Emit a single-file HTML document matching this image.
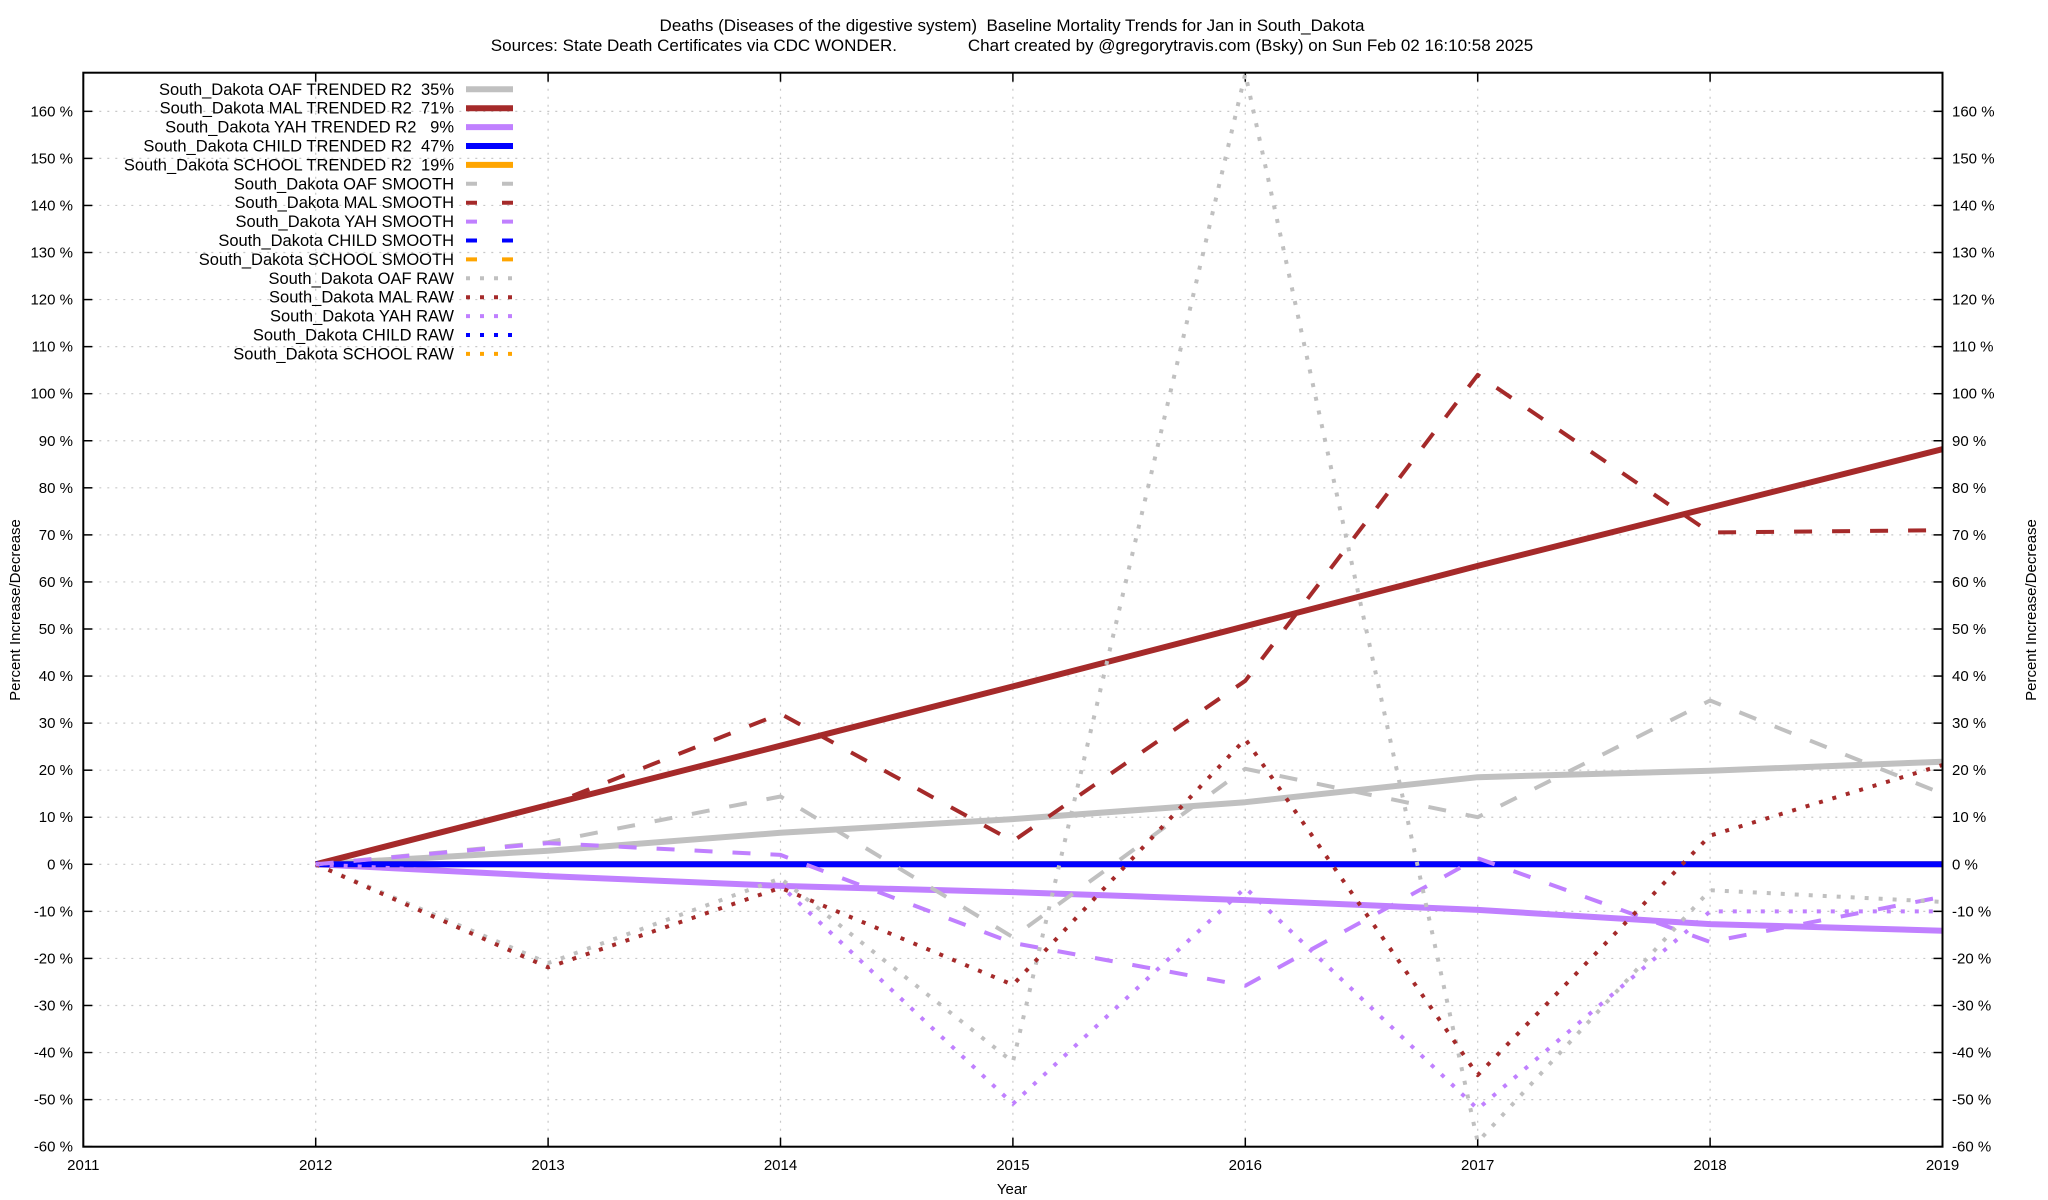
<!DOCTYPE html>
<html><head><meta charset="utf-8"><style>
html,body{margin:0;padding:0;background:#fff;}
svg{display:block;font-family:"Liberation Sans",Arial,sans-serif;}
svg text{white-space:pre;}
</style></head><body>
<svg id="chart" width="2048" height="1200" viewBox="0 0 2048 1200" xmlns="http://www.w3.org/2000/svg">
<rect x="0" y="0" width="2048" height="1200" fill="#fff"/>
<text x="1012" y="31" text-anchor="middle" font-size="17">Deaths (Diseases of the digestive system)  Baseline Mortality Trends for Jan in South_Dakota</text>
<text x="1012" y="51" text-anchor="middle" font-size="17">Sources: State Death Certificates via CDC WONDER.               Chart created by @gregorytravis.com (Bsky) on Sun Feb 02 16:10:58 2025</text>
<g id="grid"></g>
<g id="axes"></g>
<defs><clipPath id="plotclip"><rect x="83.3" y="72.7" width="1859.2" height="1074"/></clipPath></defs>
<g id="series" clip-path="url(#plotclip)"></g>
<g id="legend"></g>
<rect x="83.3" y="72.7" width="1859.2" height="1074" fill="none" stroke="#000" stroke-width="2"/>
<text x="1012" y="1194" text-anchor="middle" font-size="15">Year</text>
<text transform="translate(20,610) rotate(-90)" text-anchor="middle" font-size="15">Percent Increase/Decrease</text>
<text transform="translate(2036,610) rotate(-90)" text-anchor="middle" font-size="15">Percent Increase/Decrease</text>
</svg>
<script>
const years = [2012,2013,2014,2015,2016,2017,2018,2019];
const xTicks = [2011,2012,2013,2014,2015,2016,2017,2018,2019];
const yTicks = [-60,-50,-40,-30,-20,-10,0,10,20,30,40,50,60,70,80,90,100,110,120,130,140,150,160];
const oafTrended = [0,2.9,6.7,9.6,13.2,18.5,19.9,21.8];
const malTrended = [0,12.6,25.2,37.8,50.6,63.4,75.8,88.2];
const yahTrended = [0,-2.5,-4.6,-5.9,-7.6,-9.7,-12.7,-14.1];
const childTrended = [0,0,0,0,0,0,0,0];
const schoolTrended = [0,0,0,0,0,0,0,0];
const oafSmooth = [0,4.7,14.4,-15.5,20.3,10,34.8,15];
const malSmooth = [0,12.5,32,4.9,39,104,70.5,71];
const yahSmooth = [0,4.5,2,-16.7,-25.8,1.3,-16.5,-6.9];
const childSmooth = [0,0,0,0,0,0,0,0];
const schoolSmooth = [0,0,0,0,0,0,0,0];
const oafRaw = [0,-21,-3,-42,168,-59,-5.5,-8];
const malRaw = [0,-21.9,-5,-25.6,26.6,-44.8,6.1,21.1];
const yahRaw = [0,-2.5,-4.5,-50.9,-5,-52,-10,-10];
const childRaw = [0,0,0,0,0,0,0,0];
const schoolRaw = [0,0,0,0,0,0,0,0];

const NS="http://www.w3.org/2000/svg";
const X0=83.3, XS=232.4, Y0=864.3, YS=4.706;
function xScale(yr){return X0+(yr-2011)*XS;}
function yScale(v){return Y0-v*YS;}
function mk(tag,attrs,parent){const e=document.createElementNS(NS,tag);for(const k in attrs)e.setAttribute(k,attrs[k]);parent.appendChild(e);return e;}

const grid=document.getElementById('grid'), axes=document.getElementById('axes');
yTicks.forEach(v=>{
  const y=yScale(v);
  const g=mk('line',{x1:X0,x2:1942.5,y1:y,y2:y,stroke:'#c8c8c8','stroke-width':1.2,'stroke-dasharray':'2,6'},grid);
  
  
  const t1=mk('line',{x1:X0,x2:X0+9,y1:y,y2:y,stroke:'#000','stroke-width':1.5},axes);
  
  
  const t2=mk('line',{x1:1942.5-9,x2:1942.5,y1:y,y2:y,stroke:'#000','stroke-width':1.5},axes);
  
  
  const l=mk('text',{x:73,y:y+5,'text-anchor':'end','font-size':15},axes);
  l.textContent=v+' %';
  
  
  const r=mk('text',{x:1952,y:y+5,'text-anchor':'start','font-size':15},axes);
  r.textContent=v+' %';
  
  
});
xTicks.forEach(yr=>{
  const x=xScale(yr);
  const g=mk('line',{x1:x,x2:x,y1:72.7,y2:1146.7,stroke:'#c8c8c8','stroke-width':1.2,'stroke-dasharray':'2,6'},grid);
  
  
  const t1=mk('line',{x1:x,x2:x,y1:1146.7,y2:1137.7,stroke:'#000','stroke-width':1.5},axes);
  
  
  const t2=mk('line',{x1:x,x2:x,y1:72.7,y2:81.7,stroke:'#000','stroke-width':1.5},axes);
  
  
  const l=mk('text',{x:x,y:1170,'text-anchor':'middle','font-size':15},axes);
  l.textContent=yr;
  
  
});

const GRAY='#c0c0c0', BROWN='#a52a2a', PURP='#c080ff', BLUE='#0000ff', ORANGE='#ffa500';
const styles={trended:{w:6,d:null},smooth:{w:4,d:'18,20'},raw:{w:4,d:'4,10'}};
const seriesDefs=[
 [oafTrended,GRAY,'trended','oaf-trended-line'],
 [malTrended,BROWN,'trended','mal-trended-line'],
 [yahTrended,PURP,'trended','yah-trended-line'],
 [schoolTrended,ORANGE,'trended','school-trended-line'],
 [childTrended,BLUE,'trended','child-trended-line'],
 [oafSmooth,GRAY,'smooth','oaf-smooth-line'],
 [malSmooth,BROWN,'smooth','mal-smooth-line'],
 [yahSmooth,PURP,'smooth','yah-smooth-line'],
 [oafRaw,GRAY,'raw','oaf-raw-line'],
 [malRaw,BROWN,'raw','mal-raw-line'],
 [yahRaw,PURP,'raw','yah-raw-line']
];
const sg=document.getElementById('series');
seriesDefs.forEach(s=>{
  const pts=s[0].map((v,i)=>xScale(years[i]).toFixed(1)+','+yScale(v).toFixed(1)).join(' ');
  const st=styles[s[2]];
  const a={points:pts,fill:'none',stroke:s[1],'stroke-width':st.w,'stroke-linejoin':'round'};
  if(st.d)a['stroke-dasharray']=st.d;
  const p=mk('polyline',a,sg);
  
  
});

const legendItems=[
 ['South_Dakota OAF TRENDED R2  35%',GRAY,'trended'],
 ['South_Dakota MAL TRENDED R2  71%',BROWN,'trended'],
 ['South_Dakota YAH TRENDED R2   9%',PURP,'trended'],
 ['South_Dakota CHILD TRENDED R2  47%',BLUE,'trended'],
 ['South_Dakota SCHOOL TRENDED R2  19%',ORANGE,'trended'],
 ['South_Dakota OAF SMOOTH',GRAY,'smooth'],
 ['South_Dakota MAL SMOOTH',BROWN,'smooth'],
 ['South_Dakota YAH SMOOTH',PURP,'smooth'],
 ['South_Dakota CHILD SMOOTH',BLUE,'smooth'],
 ['South_Dakota SCHOOL SMOOTH',ORANGE,'smooth'],
 ['South_Dakota OAF RAW',GRAY,'raw'],
 ['South_Dakota MAL RAW',BROWN,'raw'],
 ['South_Dakota YAH RAW',PURP,'raw'],
 ['South_Dakota CHILD RAW',BLUE,'raw'],
 ['South_Dakota SCHOOL RAW',ORANGE,'raw']
];
const lg=document.getElementById('legend');
legendItems.forEach((it,i)=>{
  const y=89.3+i*18.9;
  const t=mk('text',{x:454,y:y+5.5,'text-anchor':'end','font-size':16.5},lg);
  t.textContent=it[0];
  
  
  const st=styles[it[2]];
  const a={x1:466,x2:513,y1:y,y2:y,stroke:it[1],'stroke-width':st.w};
  if(it[2]==='smooth')a['stroke-dasharray']='11,25';
  if(it[2]==='raw')a['stroke-dasharray']='4,10';
  const l=mk('line',a,lg);
  
  
});
</script>
</body></html>
